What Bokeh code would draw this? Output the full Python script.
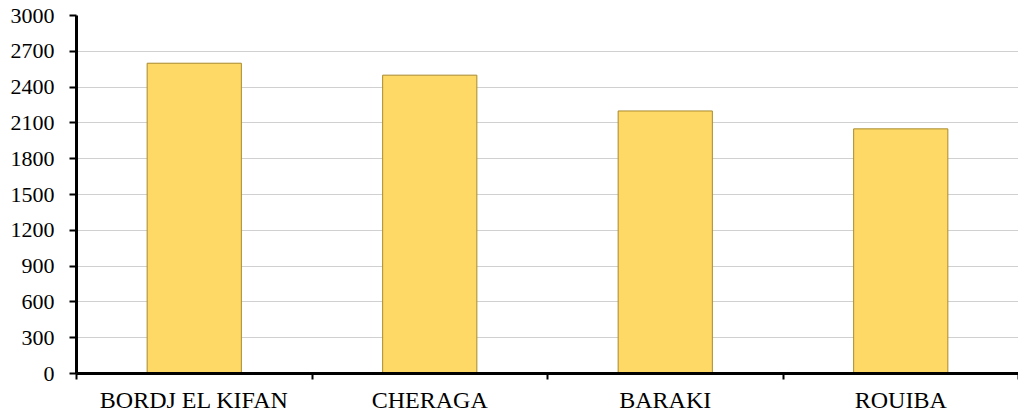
from bokeh.plotting import figure
from bokeh.models import FixedTicker, Range1d, ColumnDataSource
from bokeh.embed import file_html
from bokeh.resources import INLINE

# Communes and their values
communes = ["BORDJ EL KIFAN", "CHERAGA", "BARAKI", "ROUIBA"]
values = [2600, 2500, 2200, 2050]
y_ticks = [0, 300, 600, 900, 1200, 1500, 1800, 2100, 2400, 2700, 3000]

centers = [i + 0.5 for i in range(len(communes))]
source = ColumnDataSource(data=dict(x=centers, top=values, name=communes))

p = figure(
    width=1018, height=415,
    output_backend="svg", toolbar_location=None,
    x_range=Range1d(0, len(communes)), y_range=Range1d(0, 3000),
    min_border_left=76, min_border_right=0, min_border_top=15, min_border_bottom=41,
)
p.outline_line_color = None
p.background_fill_color = "white"
p.border_fill_color = "white"

p.vbar(x="x", top="top", width=0.4, source=source,
       fill_color="#FFD966", line_color="#A88A2C", line_width=1)

FONT = "Liberation Serif"

# Category axis: labels at bar centres, tick marks at the category boundaries
xa = p.xaxis[0]
xa.ticker = FixedTicker(ticks=centers, minor_ticks=list(range(len(communes) + 1)))
xa.major_label_overrides = {c: n for c, n in zip(centers, communes)}
xa.major_tick_line_color = None
xa.minor_tick_line_color = "black"
xa.minor_tick_line_width = 2
xa.minor_tick_out = 6
xa.minor_tick_in = 0
xa.axis_line_color = "black"
xa.axis_line_width = 3
xa.major_label_text_font = FONT
xa.major_label_text_font_size = "24px"
xa.major_label_text_color = "black"
xa.major_label_standoff = 7

ya = p.yaxis[0]
ya.ticker = FixedTicker(ticks=y_ticks)
ya.major_tick_line_color = "black"
ya.major_tick_line_width = 2
ya.major_tick_out = 7
ya.major_tick_in = 0
ya.minor_tick_line_color = None
ya.axis_line_color = "black"
ya.axis_line_width = 3
ya.major_label_text_font = FONT
ya.major_label_text_font_size = "22px"
ya.major_label_text_color = "black"
ya.major_label_standoff = 15

p.xgrid.grid_line_color = None
p.ygrid.grid_line_color = "#D0D0D0"
p.ygrid.grid_line_width = 1
p.ygrid.ticker = FixedTicker(ticks=y_ticks[1:])

open("out.html", "w").write(file_html(p, INLINE))
